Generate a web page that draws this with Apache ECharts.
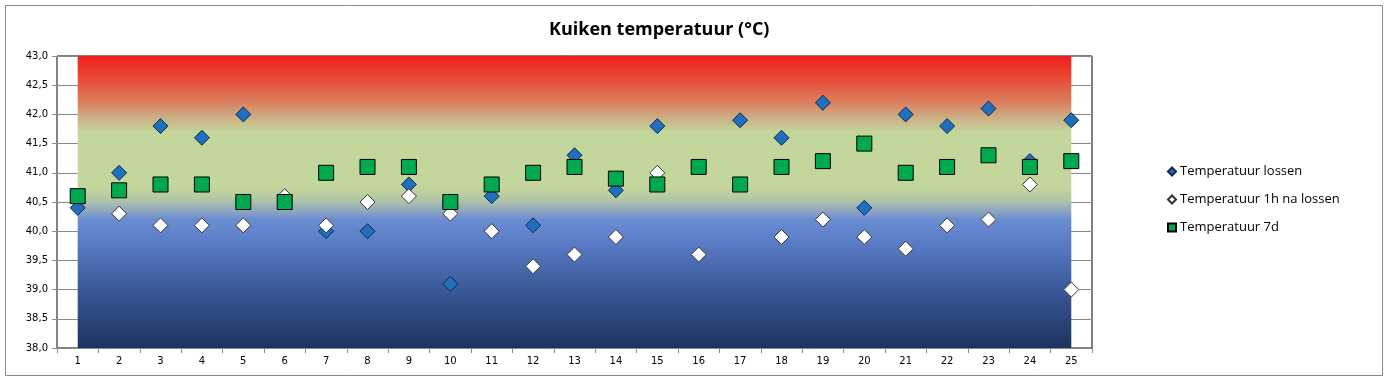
<!DOCTYPE html>
<html>
<head>
<meta charset="utf-8">
<script src="https://cdn.jsdelivr.net/npm/echarts@6/dist/echarts.min.js"></script>
<style>
html,body{margin:0;padding:0;background:#fff;}
#chart{width:1384px;height:378px;}
</style>
</head>
<body>
<div id="chart"></div>
<script>
const categories = ['1','2','3','4','5','6','7','8','9','10','11','12','13','14','15','16','17','18','19','20','21','22','23','24','25'];
const tempLossen = [40.4,41.0,41.8,41.6,42.0,40.5,40.0,40.0,40.8,39.1,40.6,40.1,41.3,40.7,41.8,41.1,41.9,41.6,42.2,40.4,42.0,41.8,42.1,41.2,41.9];
const temp1h = [40.6,40.3,40.1,40.1,40.1,40.6,40.1,40.5,40.6,40.3,40.0,39.4,39.6,39.9,41.0,39.6,40.8,39.9,40.2,39.9,39.7,40.1,40.2,40.8,39.0];
const temp7d = [40.6,40.7,40.8,40.8,40.5,40.5,41.0,41.1,41.1,40.5,40.8,41.0,41.1,40.9,40.8,41.1,40.8,41.1,41.2,41.5,41.0,41.1,41.3,41.1,41.2];
const seriesNames = ['Temperatuur lossen','Temperatuur 1h na lossen','Temperatuur 7d'];
const yMin = 38, yMax = 43, yStep = 0.5;

const chart = echarts.init(document.getElementById('chart'), null, {renderer:'canvas'});
const fontFam = '"DejaVu Sans", sans-serif';
const option = {
  animation: false,
  backgroundColor: '#fff',
  graphic: [{
    type: 'rect', left: 3, top: 3,
    shape: {width: 1377, height: 370},
    style: {fill: 'none', stroke: '#8a8a8a', lineWidth: 1}, z: 0
  }],
  title: {
    text: 'Kuiken temperatuur (°C)',
    left: 544, top: 16,
    textStyle: {fontFamily: '"Open Sans", sans-serif', fontSize: 18, fontWeight: 'bold', color: '#000'}
  },
  legend: {
    orient: 'vertical',
    left: 1162, top: 160,
    itemGap: 15,
    itemWidth: 8, itemHeight: 8,
    textStyle: {fontFamily: '"Open Sans", sans-serif', fontSize: 13, color: '#000', padding:[0,0,0,-1]},
    data: [
      {name: seriesNames[0], icon: 'diamond'},
      {name: seriesNames[1], icon: 'diamond'},
      {name: seriesNames[2], icon: 'rect'}
    ]
  },
  grid: {
    left: 57, right: 292, top: 56, bottom: 30,
    show: true, borderColor: '#000', borderWidth: 1, backgroundColor: 'transparent'
  },
  xAxis: {
    type: 'category',
    data: categories,
    boundaryGap: true,
    axisLine: {lineStyle: {color: '#888'}},
    axisTick: {show: true, alignWithLabel: false, length: 5, lineStyle: {color: '#888'}},
    axisLabel: {fontFamily: fontFam, fontSize: 10, color: '#000', margin: 8},
    splitLine: {show: false}
  },
  yAxis: {
    type: 'value',
    min: yMin, max: yMax, interval: yStep,
    axisLine: {show: true, lineStyle: {color: '#888'}},
    axisTick: {show: true, length: 5, lineStyle: {color: '#888'}},
    axisLabel: {fontFamily: fontFam, fontSize: 10, color: '#000', margin: 9,
      formatter: v => v.toFixed(1).replace('.', ',')},
    splitLine: {show: true, lineStyle: {color: '#888', width: 1}}
  },
  series: [
    {
      name: seriesNames[0], type: 'scatter', data: tempLossen,
      symbol: 'diamond', symbolSize: 15, z: 3,
      itemStyle: {color: '#1f6fbe', borderColor: '#0d2a4a', borderWidth: 1, opacity: 1},
      markArea: {
        silent: true, z: 1,
        itemStyle: {
          color: new echarts.graphic.LinearGradient(0, 0, 0, 1, [
            {offset: 0.00, color: '#f21e1b'},
            {offset: 0.08, color: '#e84c38'},
            {offset: 0.16, color: '#d9805f'},
            {offset: 0.21, color: '#ccae85'},
            {offset: 0.26, color: '#c3d69b'},
            {offset: 0.45, color: '#c3d69b'},
            {offset: 0.49, color: '#b4c7a4'},
            {offset: 0.53, color: '#8ea7c0'},
            {offset: 0.56, color: '#6a8dd2'},
            {offset: 0.64, color: '#5a7cc6'},
            {offset: 0.80, color: '#3a5897'},
            {offset: 1.00, color: '#1c3360'}
          ]),
          opacity: 1
        },
        data: [[{xAxis: categories[0], yAxis: yMin}, {xAxis: categories[categories.length - 1], yAxis: yMax}]]
      }
    },
    {
      name: seriesNames[1], type: 'scatter', data: temp1h,
      symbol: 'diamond', symbolSize: 15, z: 4,
      itemStyle: {color: '#ffffff', borderColor: '#333', borderWidth: 1, opacity: 1}
    },
    {
      name: seriesNames[2], type: 'scatter', data: temp7d,
      symbol: 'rect', symbolSize: 15, z: 5,
      itemStyle: {color: '#00a84f', borderColor: '#000', borderWidth: 1, opacity: 1}
    }
  ]
};
chart.setOption(option);
</script>
</body>
</html>
